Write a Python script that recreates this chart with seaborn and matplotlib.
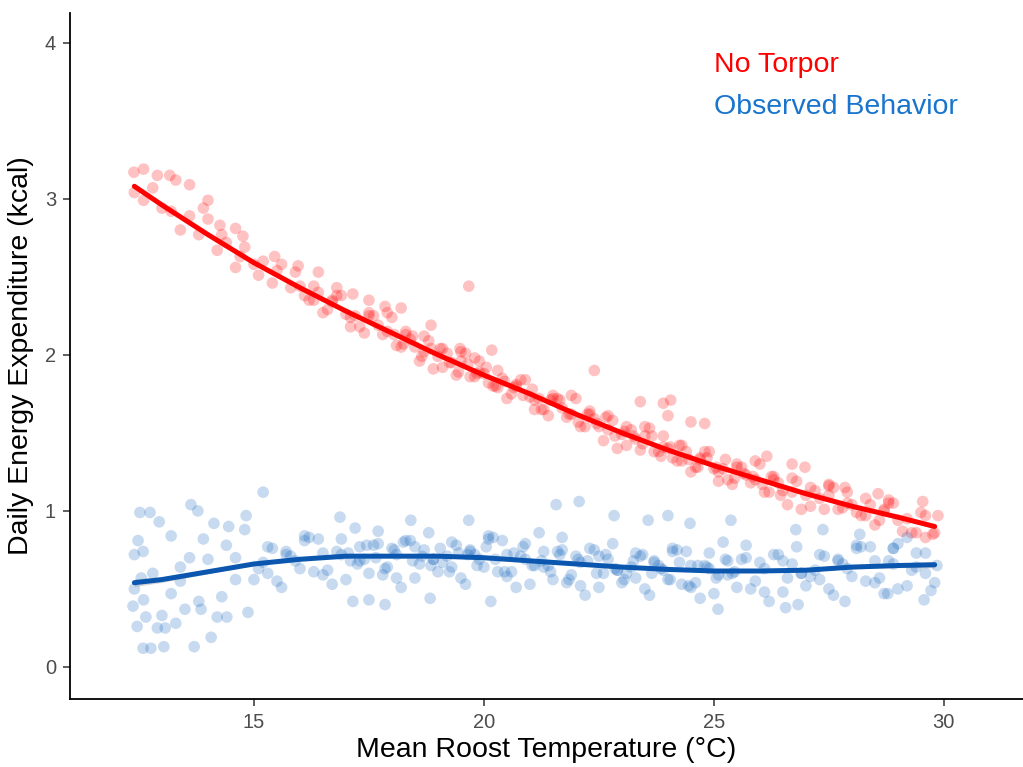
import numpy as np
import pandas as pd
import seaborn as sns
import matplotlib.pyplot as plt

# ---- values ----
# No Torpor points (temperature, kcal)
red_x = [12.4, 12.6, 12.8, 13.0, 13.2, 13.4, 13.6, 13.8, 14.0, 14.2, 14.4, 14.6, 14.8, 15.0, 15.2, 15.4, 15.6, 15.8,
         16.0, 16.2, 16.4, 16.6, 16.8, 17.0, 17.2, 17.4, 17.6, 17.8, 18.0, 18.2, 18.4, 18.6, 18.8, 19.0, 19.2, 19.4,
         19.6, 19.8, 20.0, 20.2, 20.4, 20.6, 20.8, 21.0, 21.2, 21.4, 21.6, 21.8, 22.0, 22.2, 22.4, 22.6, 22.8, 23.0,
         23.2, 23.4, 23.6, 23.8, 24.0, 24.2, 24.4, 24.6, 24.8, 25.0, 25.2, 25.4, 25.6, 25.8, 26.0, 26.2, 26.4, 26.6,
         26.8, 27.0, 27.2, 27.4, 27.6, 27.8, 28.0, 28.2, 28.4, 28.6, 28.8, 29.0, 29.2, 29.4, 29.6, 29.8,
         16.1, 16.3, 16.5, 16.7, 16.9, 17.1, 17.3, 17.5, 17.7, 17.9, 18.1, 18.3, 18.5, 18.7, 18.9, 19.1, 19.3, 19.5,
         19.7, 19.9, 20.1, 20.3, 20.5, 20.7, 20.9, 21.1, 21.3, 21.5, 21.7, 21.9, 22.1, 22.3, 22.5, 22.7, 22.9, 23.1,
         23.3, 23.5, 23.7, 23.9, 24.1, 24.3, 24.5, 24.7, 24.9, 25.1, 25.3, 25.5, 25.7, 25.9, 26.1, 26.3, 26.5, 26.7,
         26.9, 27.1, 27.3, 27.5, 27.7, 27.9, 28.1, 28.3, 28.5, 28.7, 28.9,
         18.05, 18.25, 18.45, 18.65, 18.85, 19.05, 19.25, 19.45, 19.65, 19.85, 20.05, 20.25, 20.45, 20.65, 20.85,
         21.05, 21.25, 21.45, 21.65, 21.85, 22.05, 22.25, 22.45, 22.65, 22.85, 23.05, 23.25, 23.45, 23.65, 23.85,
         24.05, 24.25, 24.45, 24.65, 24.85, 25.05, 25.25, 25.45, 25.65, 25.85, 26.05, 26.25, 26.45,
         14.3, 14.7, 15.1, 15.5, 15.9, 16.3, 16.7, 17.1, 17.5, 17.9, 18.3, 18.7, 19.1, 19.5, 19.9, 20.3, 20.7,
         21.1, 21.5, 21.9, 22.3, 22.7, 23.1, 23.5, 23.9, 24.3, 24.7, 25.1, 25.5, 25.9, 26.3, 26.7, 27.1, 27.5,
         27.9, 28.3, 28.7, 29.1, 29.5,
         12.39, 12.6, 12.9, 13.17, 13.3, 13.6, 14.0, 13.9, 14.26, 14.6, 14.76, 15.45, 15.96, 16.4, 16.8, 17.15, 17.5,
         17.85, 18.2, 18.85, 19.67, 19.48, 20.17, 19.8, 22.4, 23.4, 23.9, 24.06, 24.0, 24.5, 24.8, 26.15, 26.98,
         26.7, 27.5, 27.85, 28.57, 28.8, 29.54, 29.87, 29.6, 29.76, 29.3]
red_y = [3.04, 2.99, 3.07, 2.94, 2.92, 2.80, 2.89, 2.77, 2.87, 2.67, 2.72, 2.56, 2.69, 2.58, 2.60, 2.46, 2.58, 2.43,
         2.44, 2.35, 2.40, 2.29, 2.38, 2.26, 2.25, 2.14, 2.25, 2.13, 2.24, 2.05, 2.10, 1.96, 2.09, 1.99, 2.01, 1.87,
         2.01, 1.86, 1.88, 1.80, 1.85, 1.75, 1.84, 1.73, 1.72, 1.61, 1.72, 1.60, 1.72, 1.54, 1.59, 1.45, 1.58, 1.49,
         1.52, 1.39, 1.53, 1.38, 1.40, 1.32, 1.38, 1.28, 1.38, 1.27, 1.27, 1.17, 1.28, 1.18, 1.30, 1.12, 1.18, 1.04,
         1.19, 1.10, 1.13, 1.01, 1.15, 1.02, 1.04, 0.97, 1.04, 0.94, 1.05, 0.94, 0.95, 0.86, 0.97, 0.86,
         2.38, 2.44, 2.27, 2.35, 2.38, 2.24, 2.18, 2.25, 2.19, 2.27, 2.06, 2.13, 2.05, 2.12, 1.91, 2.04, 1.95, 2.02,
         1.86, 1.89, 1.82, 1.90, 1.72, 1.81, 1.84, 1.71, 1.65, 1.72, 1.66, 1.74, 1.54, 1.62, 1.54, 1.61, 1.40, 1.54,
         1.46, 1.54, 1.38, 1.41, 1.34, 1.42, 1.25, 1.34, 1.38, 1.25, 1.20, 1.28, 1.23, 1.32, 1.12, 1.20, 1.13, 1.21,
         1.01, 1.15, 1.08, 1.16, 1.01, 1.05, 0.99, 1.08, 0.91, 1.01, 1.05,
         2.13, 2.07, 2.12, 1.99, 2.04, 2.04, 1.95, 1.89, 1.94, 1.88, 1.92, 1.80, 1.83, 1.79, 1.74,
         1.78, 1.65, 1.71, 1.71, 1.62, 1.57, 1.62, 1.56, 1.60, 1.48, 1.51, 1.48, 1.43, 1.48, 1.35,
         1.41, 1.42, 1.33, 1.28, 1.34, 1.28, 1.33, 1.21, 1.24, 1.22, 1.17, 1.22, 1.10,
         2.77, 2.63, 2.51, 2.54, 2.53, 2.35, 2.34, 2.18, 2.27, 2.15, 2.15, 2.02, 1.92, 1.96, 1.96, 1.79, 1.80,
         1.65, 1.74, 1.62, 1.64, 1.52, 1.42, 1.48, 1.48, 1.32, 1.33, 1.19, 1.30, 1.20, 1.22, 1.12, 1.03, 1.10,
         1.12, 0.97, 1.00, 0.87, 0.99,
         3.17, 3.19, 3.15, 3.15, 3.12, 3.09, 2.99, 2.94, 2.83, 2.81, 2.76, 2.63, 2.57, 2.53, 2.43, 2.39, 2.35,
         2.31, 2.30, 2.19, 2.44, 2.04, 2.03, 1.98, 1.90, 1.70, 1.69, 1.71, 1.61, 1.57, 1.56, 1.35, 1.28,
         1.30, 1.17, 1.15, 1.11, 1.07, 1.06, 0.97, 0.83, 0.85, 0.86]

# Observed Behavior points
blue_x = [12.4, 12.6, 12.8, 13.0, 13.2, 13.4, 13.6, 13.8, 14.0, 14.2, 14.4, 14.6, 14.8, 15.0, 15.2, 15.4, 15.6, 15.8,
          16.0, 16.2, 16.4, 16.6, 16.8, 17.0, 17.2, 17.4, 17.6, 17.8, 18.0, 18.2, 18.4, 18.6, 18.8, 19.0, 19.2, 19.4,
          19.6, 19.8, 20.0, 20.2, 20.4, 20.6, 20.8, 21.0, 21.2, 21.4, 21.6, 21.8, 22.0, 22.2, 22.4, 22.6, 22.8, 23.0,
          23.2, 23.4, 23.6, 23.8, 24.0, 24.2, 24.4, 24.6, 24.8, 25.0, 25.2, 25.4, 25.6, 25.8, 26.0, 26.2, 26.4, 26.6,
          26.8, 27.0, 27.2, 27.4, 27.6, 27.8, 28.0, 28.2, 28.4, 28.6, 28.8, 29.0, 29.2, 29.4, 29.6, 29.8,
          15.1, 15.3, 15.5, 15.7, 15.9, 16.1, 16.3, 16.5, 16.7, 16.9, 17.1, 17.3, 17.5, 17.7, 17.9, 18.1, 18.3, 18.5,
          18.7, 18.9, 19.1, 19.3, 19.5, 19.7, 19.9, 20.1, 20.3, 20.5, 20.7, 20.9, 21.1, 21.3, 21.5, 21.7, 21.9, 22.1,
          22.3, 22.5, 22.7, 22.9, 23.1, 23.3, 23.5, 23.7, 23.9, 24.1, 24.3, 24.5, 24.7, 24.9, 25.1, 25.3, 25.5, 25.7,
          25.9, 26.1, 26.3, 26.5, 26.7, 26.9, 27.1, 27.3, 27.5, 27.7, 27.9, 28.1, 28.3, 28.5, 28.7, 28.9,
          17.05, 17.25, 17.45, 17.65, 17.85, 18.05, 18.25, 18.45, 18.65, 18.85, 19.05, 19.25, 19.45, 19.65, 19.85,
          20.05, 20.25, 20.45, 20.65, 20.85, 21.05, 21.25, 21.45, 21.65, 21.85, 22.05, 22.25, 22.45, 22.65, 22.85,
          23.05, 23.25, 23.45, 23.65, 23.85, 24.05, 24.25, 24.45, 24.65, 24.85, 25.05, 25.25, 25.45,
          15.3, 15.7, 16.1, 16.5, 16.9, 17.3, 17.7, 18.1, 18.5, 18.9, 19.3, 19.7, 20.1, 20.5, 20.9, 21.3, 21.7, 22.1,
          22.5, 22.9, 23.3, 23.7, 24.1, 24.5, 24.9, 25.3, 25.7, 26.1, 26.5, 26.9, 27.3, 27.7, 28.1, 28.5, 28.9, 29.3,
          12.52, 12.74, 12.48, 12.59, 12.46, 12.59, 12.76, 13.04, 13.7, 14.07, 12.9, 13.07, 13.3, 12.65, 12.37, 14.41,
          14.87, 13.5, 13.85, 15.2, 13.63, 13.78, 14.83, 12.94, 14.13, 16.87, 17.15, 17.5, 17.85, 21.57, 22.07, 22.83,
          24.0, 24.48, 25.37, 23.57, 18.41, 19.67, 18.83, 20.15, 25.09, 26.56, 26.83, 27.85, 29.57, 29.72, 28.78,
          29.2, 29.85, 29.6, 28.9, 29.0, 27.37, 26.78, 28.17, 29.4, 12.4, 12.55, 13.2, 13.4, 14.3, 14.6, 13.9, 14.45]
blue_y = [0.72, 0.43, 0.60, 0.33, 0.84, 0.55, 0.70, 0.42, 0.69, 0.32, 0.78, 0.56, 0.88, 0.56, 0.67, 0.76, 0.51, 0.71,
          0.63, 0.83, 0.82, 0.62, 0.74, 0.56, 0.89, 0.69, 0.78, 0.59, 0.76, 0.51, 0.81, 0.66, 0.86, 0.61, 0.71, 0.78,
          0.53, 0.72, 0.64, 0.83, 0.81, 0.61, 0.71, 0.53, 0.86, 0.65, 0.74, 0.54, 0.71, 0.46, 0.75, 0.60, 0.79, 0.54,
          0.64, 0.71, 0.46, 0.65, 0.56, 0.75, 0.74, 0.54, 0.65, 0.47, 0.80, 0.60, 0.69, 0.50, 0.67, 0.42, 0.72, 0.57,
          0.77, 0.52, 0.62, 0.71, 0.46, 0.66, 0.58, 0.77, 0.77, 0.57, 0.68, 0.50, 0.83, 0.64, 0.73, 0.54,
          0.63, 0.77, 0.55, 0.74, 0.68, 0.84, 0.61, 0.73, 0.53, 0.82, 0.68, 0.77, 0.60, 0.87, 0.64, 0.72, 0.81, 0.57,
          0.75, 0.69, 0.67, 0.80, 0.57, 0.75, 0.69, 0.84, 0.61, 0.72, 0.51, 0.79, 0.65, 0.74, 0.56, 0.83, 0.59, 0.67,
          0.76, 0.51, 0.69, 0.62, 0.60, 0.73, 0.50, 0.68, 0.62, 0.76, 0.53, 0.65, 0.44, 0.73, 0.59, 0.68, 0.51, 0.78,
          0.55, 0.63, 0.72, 0.48, 0.66, 0.60, 0.58, 0.72, 0.50, 0.69, 0.63, 0.78, 0.55, 0.68, 0.47, 0.76,
          0.73, 0.66, 0.78, 0.70, 0.63, 0.75, 0.80, 0.68, 0.71, 0.65, 0.76, 0.61, 0.73, 0.72, 0.65,
          0.77, 0.69, 0.61, 0.73, 0.77, 0.65, 0.68, 0.61, 0.72, 0.56, 0.69, 0.68, 0.60, 0.72, 0.63,
          0.56, 0.68, 0.72, 0.60, 0.63, 0.56, 0.67, 0.52, 0.65, 0.64, 0.57, 0.69, 0.61,
          0.60, 0.72, 0.81, 0.59, 0.72, 0.68, 0.79, 0.57, 0.77, 0.69, 0.64, 0.74, 0.82, 0.58, 0.69, 0.64, 0.75, 0.52,
          0.71, 0.62, 0.57, 0.67, 0.74, 0.51, 0.63, 0.59, 0.70, 0.48, 0.68, 0.60, 0.56, 0.68, 0.76, 0.54, 0.66, 0.62,
          0.99, 0.99, 0.81, 0.74, 0.26, 0.12, 0.12, 0.13, 0.13, 0.19, 0.25, 0.25, 0.28, 0.32, 0.39, 0.32,
          0.35, 0.37, 0.37, 1.12, 1.04, 1.00, 0.97, 0.93, 0.92, 0.96, 0.42, 0.43, 0.40, 1.04, 1.06, 0.97,
          0.97, 0.92, 0.94, 0.94, 0.94, 0.94, 0.44, 0.42, 0.37, 0.38, 0.40, 0.42, 0.43, 0.49, 0.47,
          0.52, 0.65, 0.60, 0.76, 0.79, 0.88, 0.88, 0.85, 0.73, 0.50, 0.57, 0.47, 0.64, 0.45, 0.70, 0.82, 0.90]

# smoothed fits
red_fit_x = [12.4, 13.0, 14.0, 15.0, 16.0, 17.0, 18.0, 19.0, 20.0, 21.0, 22.0, 23.0, 24.0, 25.0, 26.0, 27.0,
             28.0, 29.0, 29.8]
red_fit_y = [3.08, 2.96, 2.77, 2.59, 2.43, 2.28, 2.14, 2.00, 1.87, 1.75, 1.62, 1.50, 1.39, 1.29, 1.20, 1.11,
             1.03, 0.96, 0.90]
red_fit_se = [0.015, 0.01, 0.007, 0.006, 0.005, 0.005, 0.004, 0.004, 0.004, 0.004, 0.004, 0.004, 0.004, 0.005,
              0.005, 0.006, 0.007, 0.01, 0.015]
blue_fit_x = [12.4, 13.0, 14.0, 15.0, 16.0, 17.0, 18.0, 19.0, 20.0, 21.0, 22.0, 23.0, 24.0, 25.0, 26.0, 27.0,
              28.0, 29.0, 29.8]
blue_fit_y = [0.54, 0.56, 0.61, 0.66, 0.69, 0.71, 0.71, 0.71, 0.70, 0.68, 0.66, 0.64, 0.625, 0.615, 0.615, 0.62,
              0.64, 0.65, 0.655]
blue_fit_se = [0.025, 0.018, 0.012, 0.009, 0.007, 0.006, 0.005, 0.005, 0.005, 0.005, 0.005, 0.005, 0.006, 0.006,
               0.007, 0.008, 0.01, 0.014, 0.02]

labels = ['No Torpor', 'Observed Behavior']
point_colors = {'No Torpor': '#FF0000', 'Observed Behavior': '#1565C0'}
line_colors = {'No Torpor': '#FF0000', 'Observed Behavior': '#0B57B0'}
text_colors = {'No Torpor': '#FF0000', 'Observed Behavior': '#1874CD'}

pts = pd.concat([
    pd.DataFrame({'temp': red_x, 'dee': red_y, 'group': labels[0]}),
    pd.DataFrame({'temp': blue_x, 'dee': blue_y, 'group': labels[1]}),
])
fits = pd.concat([
    pd.DataFrame({'temp': red_fit_x, 'dee': red_fit_y, 'se': red_fit_se, 'group': labels[0]}),
    pd.DataFrame({'temp': blue_fit_x, 'dee': blue_fit_y, 'se': blue_fit_se, 'group': labels[1]}),
])

sns.set_style("ticks")
plt.rcParams['font.family'] = ['Liberation Sans', 'DejaVu Sans']

fig = plt.figure(figsize=(10.23, 7.67), dpi=100)
ax = fig.add_axes([0.0684, 0.0887, 0.9316, 0.8943])

sns.scatterplot(data=pts, x='temp', y='dee', hue='group', palette=point_colors,
                s=70, alpha=0.24, linewidth=0, legend=False, ax=ax)

for g in labels:
    f = fits[fits['group'] == g]
    ax.fill_between(f['temp'], f['dee'] - f['se'], f['dee'] + f['se'],
                    color='#999999', alpha=0.4, linewidth=0)
sns.lineplot(data=fits, x='temp', y='dee', hue='group', palette=line_colors,
             linewidth=3.6, legend=False, ax=ax)

ax.text(25.0, 3.86, 'No Torpor', color=text_colors['No Torpor'], fontsize=20.5, va='center', ha='left')
ax.text(25.0, 3.59, 'Observed Behavior', color=text_colors['Observed Behavior'], fontsize=20.5,
        va='center', ha='left')

ax.set_xlim(11.0, 31.72)
ax.set_ylim(-0.205, 4.19)
ax.set_xticks([15, 20, 25, 30])
ax.set_yticks([0, 1, 2, 3, 4])
ax.set_xlabel('Mean Roost Temperature (°C)', fontsize=20.5, color='black', labelpad=4)
ax.set_ylabel('Daily Energy Expenditure (kcal)', fontsize=20.5, color='black', labelpad=8)
ax.tick_params(axis='both', labelsize=14.5, labelcolor='#4D4D4D', color='#333333',
               length=5, width=1.1, pad=5)
sns.despine(ax=ax)
for side in ['left', 'bottom']:
    ax.spines[side].set_linewidth(1.3)
    ax.spines[side].set_color('black')

fig.savefig('out.png', dpi=100)
